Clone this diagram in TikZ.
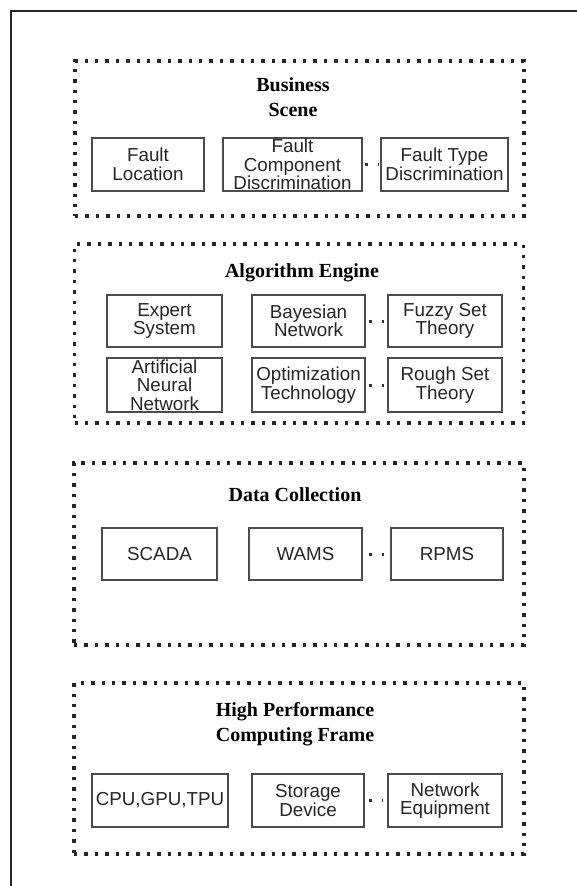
\documentclass[tikz,border=0pt]{standalone}
\usepackage{fontspec}
\setmainfont{Liberation Serif}
\newfontfamily\boxfont{Liberation Sans}
\begin{document}
\begin{tikzpicture}[x=1pt,y=-1pt,
  frame/.style={draw=black!85, line width=2.6pt},
  layer/.style={draw=black!85, line width=3.4pt, dash pattern=on 3.4pt off 7pt,
    inner sep=0pt, minimum width=449pt},
  layertitle/.style={font=\bfseries\fontsize{20}{24.5}\selectfont, align=center,
    text=black, inner sep=1pt},
  unit/.style={draw=black!70, line width=1.9pt, inner sep=0pt, align=center,
    text=black!85, font=\boxfont\fontsize{18.8}{18.5}\selectfont},
  linkdots/.style={draw=black!80, line width=3pt, dash pattern=on 3pt off 10pt,
    shorten <=#1, shorten >=#1}
]
\useasboundingbox (0,0) rectangle (577,886);
\fill[white] (0,0) rectangle (577,886);

% outer page frame (open to the right and bottom)
\coordinate (fbl) at (11,886);
\coordinate (ftl) at (11,11);
\coordinate (ftr) at (577,11);
\draw[frame] (fbl) -- (ftl) -- (ftr);

% ---- Business Scene ----
\node[layer, minimum height=155pt] (scene) at (299.5,138.5) {};
\node[layertitle] (sceneT) at (293,97) {Business\\Scene};
\node[unit, minimum width=112pt, minimum height=53pt] (floc) at (148,164.5) {Fault\\Location};
\node[unit, minimum width=139pt, minimum height=53pt] (fcomp) at (292.5,164.5) {Fault\\Component\\Discrimination};
\node[unit, minimum width=127pt, minimum height=53pt] (ftype) at (444.5,164.5) {Fault Type\\Discrimination};
\draw[linkdots=2pt] (fcomp.east) -- (ftype.west);

% ---- Algorithm Engine ----
\node[layer, minimum height=179pt] (algo) at (299,333.5) {};
\node[layertitle] (algoT) at (302,273) {Algorithm Engine};
\node[unit, minimum width=115pt, minimum height=52pt] (expert) at (164.5,321) {Expert\\System};
\node[unit, minimum width=113pt, minimum height=52pt] (bayes) at (308.5,321) {Bayesian\\Network};
\node[unit, minimum width=114pt, minimum height=52pt] (fuzzy) at (445,321) {Fuzzy Set\\Theory};
\node[unit, minimum width=115pt, minimum height=54pt] (ann) at (164.5,385) {Artificial\\Neural\\Network};
\node[unit, minimum width=113pt, minimum height=54pt] (optim) at (308.5,385) {Optimization\\Technology};
\node[unit, minimum width=114pt, minimum height=54pt] (rough) at (445,385) {Rough Set\\Theory};
\draw[linkdots=3.5pt] (bayes.east) -- (fuzzy.west);
\draw[linkdots=3.5pt] (optim.east) -- (rough.west);

% ---- Data Collection ----
\node[layer, minimum width=450pt, minimum height=182pt] (data) at (299,554) {};
\node[layertitle] (dataT) at (295,495) {Data Collection};
\node[unit, minimum width=115pt, minimum height=52pt] (scada) at (159.5,554) {SCADA};
\node[unit, minimum width=113pt, minimum height=52pt] (wams) at (305.5,554) {WAMS};
\node[unit, minimum width=112pt, minimum height=52pt] (rpms) at (447,554) {RPMS};
\draw[linkdots=6.5pt] (wams.east) -- (rpms.west);

% ---- High Performance Computing Frame ----
\node[layer, minimum width=450pt, minimum height=171pt] (hpc) at (299,768.5) {};
\node[layertitle] (hpcT) at (295,724) {High Performance\\Computing Frame};
\node[unit, minimum width=136pt, minimum height=53pt] (cpu) at (160,800.5) {CPU,GPU,TPU};
\node[unit, minimum width=112pt, minimum height=53pt] (store) at (308,800.5) {Storage\\Device};
\node[unit, minimum width=114pt, minimum height=53pt] (net) at (445,800.5) {Network\\Equipment};
\draw[linkdots=4pt] (store.east) -- (net.west);
\end{tikzpicture}
\end{document}
